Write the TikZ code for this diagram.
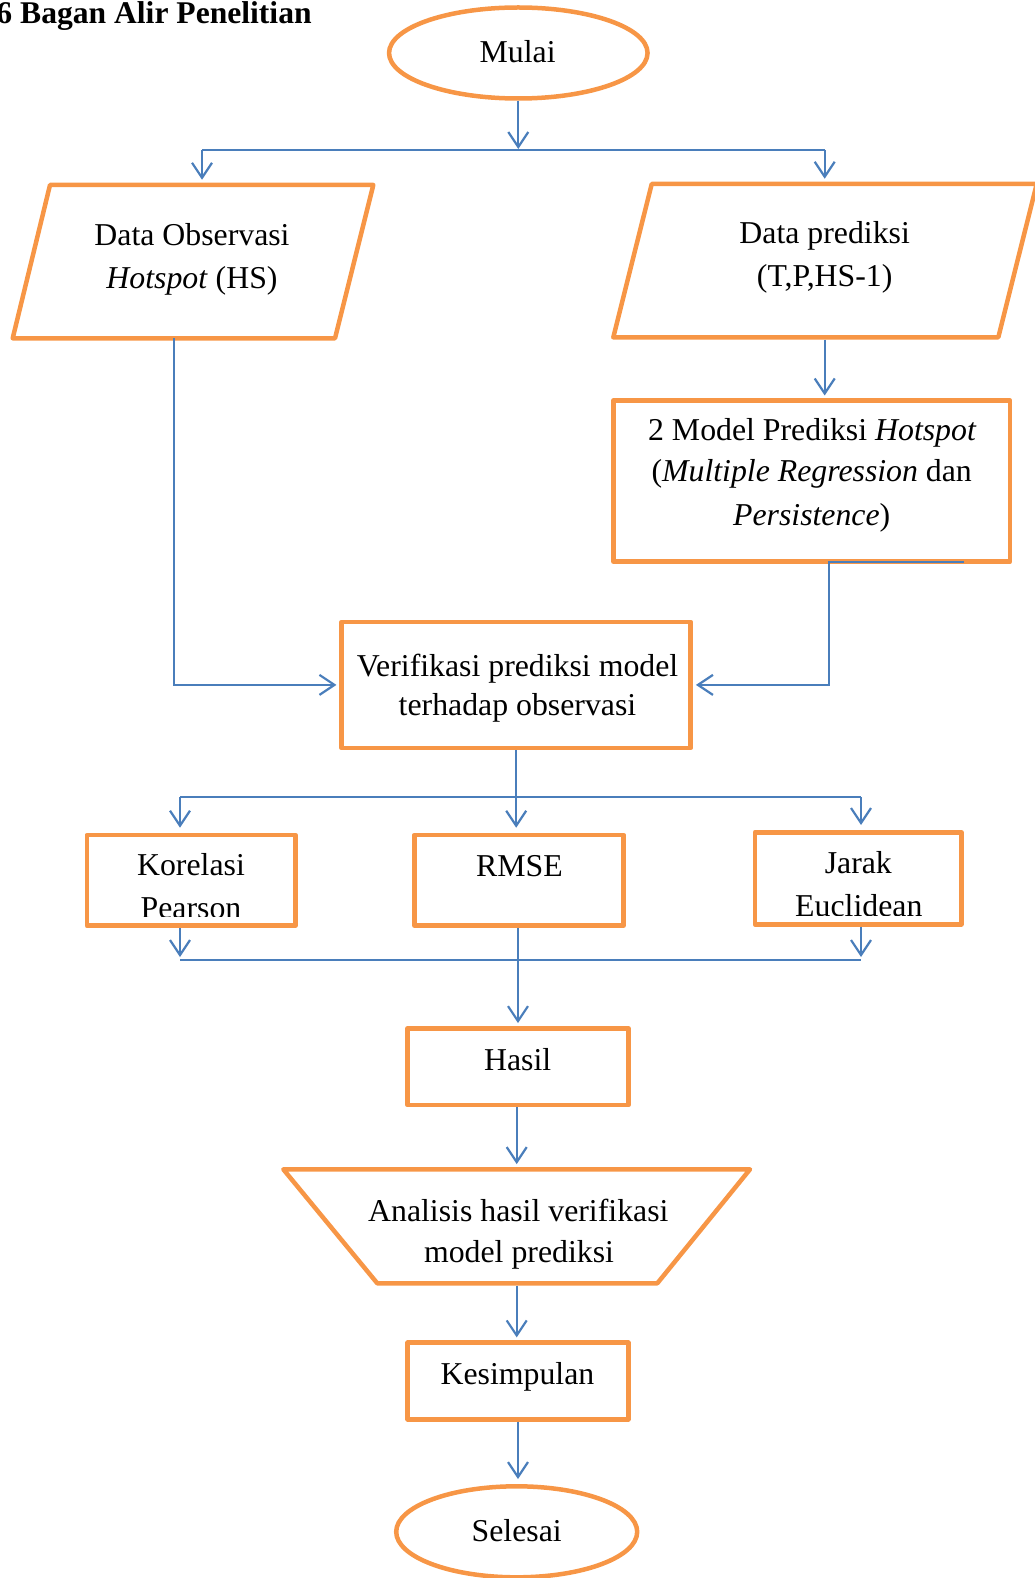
\documentclass[tikz,border=0pt]{standalone}
\usepackage{fontspec}
\setmainfont{Liberation Serif}
\usetikzlibrary{arrows.meta,shapes.geometric}
\definecolor{boxor}{HTML}{F79646}
\definecolor{lineblue}{HTML}{4A7EBB}
\tikzset{
  box/.style={draw=boxor, line width=4.5pt, rectangle, inner sep=0pt, outer sep=2.25pt, line join=round},
  oval/.style={draw=boxor, line width=4.5pt, ellipse, inner sep=0pt, outer sep=2.25pt},
  outline/.style={draw=boxor, line width=4.5pt, line join=round},
  ghost/.style={rectangle, draw=none, inner sep=0pt, outer sep=2.25pt},
  txt/.style={anchor=base, inner sep=0pt, font=\fontsize{31.8}{38}\selectfont},
  conn/.style={draw=lineblue, line width=2.2pt},
  arr/.style={conn, shorten >=3pt, -{Straight Barb[length=15pt,width=20pt]}},
}
\begin{document}
\begin{tikzpicture}[x=1pt,y=-1pt]
\useasboundingbox (0,0) rectangle (1035,1578);
\clip (0,0) rectangle (1035,1578);

% title
\node[anchor=base west, inner sep=0pt, font=\bfseries\fontsize{31.6}{38}\selectfont] (title) at (-3.7,23.5) {6 Bagan Alir Penelitian};

% start
\node[oval, minimum width=258.5pt, minimum height=91pt] (mulai) at (518.3,53) {};
\node[txt] (tmulai) at (517.7,62.7) {Mulai};

% input parallelograms
\draw[outline] (50,185) -- (373.3,185) -- (335,338.3) -- (12.7,338.3) -- cycle;
\node[ghost, minimum width=360.6pt, minimum height=153.3pt] (obs) at (193,261.65) {};
\node[txt] (tobs1) at (192,246) {Data Observasi};
\node[txt] (tobs2) at (192,289) {\textit{Hotspot} (HS)};

\draw[outline] (651.7,184) -- (1036.7,184) -- (998.3,337.3) -- (613.3,337.3) -- cycle;
\node[ghost, minimum width=423.4pt, minimum height=153.3pt] (pred) at (825,260.65) {};
\node[txt] (tpred1) at (824.7,244) {Data prediksi};
\node[txt] (tpred2) at (824.7,286.7) {(T,P,HS-1)};

% model
\node[box, minimum width=396.7pt, minimum height=161pt] (model) at (811.7,481.2) {};
\node[txt] (tmod1) at (812.3,440) {2 Model Prediksi \textit{Hotspot}};
\node[txt] (tmod2) at (811.7,481.7) {(\textit{Multiple Regression} dan};
\node[txt] (tmod3) at (811.7,525) {\textit{Persistence})};

% verification
\node[box, minimum width=349pt, minimum height=126.3pt] (verif) at (516.2,684.9) {};
\node[txt] (tver1) at (517.5,676.8) {Verifikasi prediksi model};
\node[txt] (tver2) at (517.5,715.1) {terhadap observasi};

% three measures
\node[box, minimum width=208.5pt, minimum height=90.7pt] (kor) at (191.1,880.3) {};
\node[txt] (tkor1) at (191,875.5) {Korelasi};
\begin{scope}
  \clip (80,880) rectangle (300,916.5);
  \node[txt] (tkor2) at (191,918.5) {Pearson};
\end{scope}

\node[box, minimum width=209.4pt, minimum height=90.7pt] (rmse) at (519,880.3) {};
\node[txt] (trmse) at (519.5,876.7) {RMSE};

\node[box, minimum width=206.6pt, minimum height=92.1pt] (jar) at (858.1,878.3) {};
\node[txt] (tjar1) at (858.3,873.8) {Jarak};
\begin{scope}
  \clip (750,880) rectangle (965,915);
  \node[txt] (tjar2) at (858.8,916.5) {Euclidean};
\end{scope}

% results
\node[box, minimum width=220.6pt, minimum height=76.7pt] (hasil) at (518,1066.7) {};
\node[txt] (thasil) at (517.7,1070) {Hasil};

\draw[outline] (283.3,1169.3) -- (750,1169.3) -- (657.3,1283.3) -- (377.3,1283.3) -- cycle;
\node[ghost, minimum width=466.7pt, minimum height=114pt] (anal) at (516.7,1226.3) {};
\node[txt] (tanal1) at (518.3,1221.7) {Analisis hasil verifikasi};
\node[txt] (tanal2) at (519,1262.5) {model prediksi};

\node[box, minimum width=220.6pt, minimum height=76.7pt] (kes) at (518,1381) {};
\node[txt] (tkes) at (517.5,1384.6) {Kesimpulan};

\node[oval, minimum width=241pt, minimum height=91pt] (sel) at (516.7,1531.8) {};
\node[txt] (tsel) at (516.7,1541) {Selesai};

% connectors
\coordinate (j1) at (518.3,150);
\coordinate (j1L) at (202,150);
\coordinate (j1R) at (824.7,150);
\draw[arr, shorten >=1pt] (mulai.south) -- (j1);
\draw[conn] (j1L) -- (j1R);
\draw[arr] (j1L) -- (j1L |- obs.north);
\draw[arr] (j1R) -- (j1R |- pred.north);
\draw[arr] (pred.south -| j1R) -- (j1R |- model.north);

\coordinate (o1) at (174,338.3);
\draw[arr] (o1) |- (verif.west);

\coordinate (m1) at (964,561.7);
\coordinate (m2) at (828.7,561.7);
\draw[arr] (m1) -- (m2) |- (verif.east);

\coordinate (j2L) at (180,797);
\coordinate (j2R) at (861,797);
\draw[conn] (j2L) -- (j2R);
\draw[arr, shorten >=5pt] (verif.south) -- (verif.south |- rmse.north);
\draw[arr, shorten >=5pt] (j2L) -- (j2L |- kor.north);
\draw[arr, shorten >=5pt] (j2R) -- (j2R |- jar.north);

\coordinate (j3L) at (180,960);
\coordinate (j3R) at (861,960);
\draw[arr] (kor.south -| j3L) -- (j3L);
\draw[arr] (jar.south -| j3R) -- (j3R);
\draw[conn] (j3L) -- (j3R);
\draw[arr] (rmse.south -| hasil.north) -- (hasil.north);

\draw[arr] (hasil.south -| anal.north) -- (anal.north);
\draw[arr] (anal.south) -- (anal.south |- kes.north);
\draw[arr, shorten >=5pt] (kes.south) -- (kes.south |- sel.north);
\end{tikzpicture}
\end{document}
